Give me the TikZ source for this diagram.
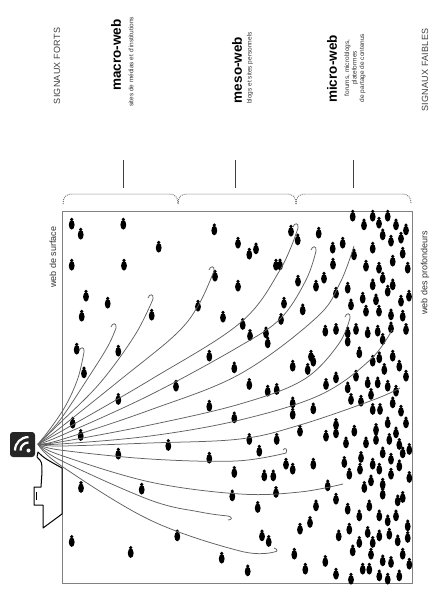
\documentclass[tikz,border=0pt]{standalone}
\usepackage{fontspec}
\setmainfont{Liberation Sans}
\newfontfamily\lightsf[LetterSpace=3]{Liberation Sans}
\begin{document}
\begin{tikzpicture}[x=1pt,y=-1pt,
  ray/.style={draw=black!62, line width=0.75pt},
  frame/.style={draw=black!50, line width=1pt},
  brace/.style={draw=black!55, line width=1pt, dash pattern=on 0.9pt off 1.1pt},
  tick/.style={draw=black!75, line width=0.9pt},
  signal/.style={rotate=90, font=\lightsf\fontsize{9}{10}\selectfont, text=black!75},
  level/.style={rotate=90, font=\bfseries\fontsize{13.5}{14}\selectfont},
  levelnote/.style={rotate=90, font=\fontsize{6.5}{7.5}\selectfont, text=black!80, align=center},
  zone/.style={rotate=90, font=\fontsize{9}{10}\selectfont, text=black!80},
  ppl/.pic={\fill (0,-4.6) circle (1.8); \fill (0,0.8) ellipse (2.9 and 4.8);}
]
\useasboundingbox (0,0) rectangle (431,594);
\fill[white] (0,0) rectangle (431,594);

% frame of the web
\draw[frame] (62,211) rectangle (412,583);

% dotted braces over the three levels
\draw[brace] (63,204) .. controls (63,197) and (66,194) .. (72,194) -- (169,194) .. controls (175,194) and (178,197) .. (178,204);
\draw[brace] (178,204) .. controls (178,197) and (181,194) .. (187,194) -- (287,194) .. controls (293,194) and (296,197) .. (296,204);
\draw[brace] (296,204) .. controls (296,197) and (299,194) .. (305,194) -- (402,194) .. controls (408,194) and (411,197) .. (411,204);
\draw[tick] (123,160) -- (123,188);
\draw[tick] (235,160) -- (235,188);
\draw[tick] (353,160) -- (353,188);

% labels
\node[signal] (forts) at (57,66) {SIGNAUX FORTS};
\node[level] (macro) at (116,55) {macro-web};
\node[levelnote] (macronote) at (131,62) {sites de médias et d'institutions};
\node[level] (meso) at (237,70) {meso-web};
\node[levelnote] (mesonote) at (250,68) {blogs et sites personnels};
\node[level] (micro) at (332,69) {micro-web};
\node[levelnote] (micronote) at (355,68) {forums, microblogs,\\plateformes\\de partage de contenus};
\node[signal] (faibles) at (425,70) {SIGNAUX FAIBLES};
\node[zone, anchor=east] (surface) at (53,223) {web de surface};
\node[zone, anchor=east] (deep) at (425,227) {web des profondeurs};

% people scattered over the web
\foreach \px/\py in {71.7/224, 80.7/234, 123.3/224, 158.7/247, 214.3/229.7, 238/243, 71.7/265, 124/265, 86/296, 107.7/303, 81.7/316, 238/286, 223/317, 198/306, 215/276, 151.7/315,
 76.7/349, 118.3/351, 84/372.7, 209.3/356, 234.3/367.7, 176/386, 118.3/399.3, 209.3/406, 234.3/417.7, 72.7/423, 80.7/435.3, 168.3/445.3, 118.3/454, 209.3/458,
 81/487.3, 141.7/489, 234.3/472.3, 232.3/495.7, 71.7/541.3, 130.7/552.3, 177.3/535.7, 221.7/558,
 249.3/254, 256/248.7, 276/265, 280/264.7, 291/231, 297.7/239.7, 298/281, 318.7/233, 332.7/248, 333/264, 342.7/243, 352.7/216, 354/254.7, 284/303, 302.7/309.7, 316/286, 324/278, 336/293, 347.7/288, 351/304.7, 364/224.7, 372.7/216, 379/223, 387.7/216, 396/224.7, 406/229.7, 382.7/234.7, 391/241, 401/238, 372.7/248, 366/266, 379/268, 392.7/261, 402.7/253, 407.7/268, 382.7/278, 372.7/284.7, 392.7/284.7, 362.7/298, 376/299.7, 387.7/291, 401/301, 409/296, 366/311, 379/311, 391/314.7, 402.7/316,
 242.7/324.3, 250/335.3, 266/332.7, 267.7/342.7, 281/319.3, 325.3/331, 336/329.3, 347.7/332.7, 356/329.3, 367.7/332.7, 377.7/331, 382.7/339.3, 391/327.7, 406/329.3, 347.7/341, 311/356, 313.3/361, 292.7/366, 307.7/369.3, 359.3/352.7, 372.7/361, 379.3/357.7, 392.7/356, 399.3/366, 406/376, 384.3/369.3, 249.3/384.3, 267.7/391, 276.7/389.3, 326/384.3, 336/377.7, 347.7/387.7, 356/376, 367.7/382.7, 377.7/382.7, 387.7/386, 396/391, 351/399.3, 361/401, 371/394.3, 292.7/402.7, 313.3/408.7, 372.7/409.3, 380/409.3, 392.7/402.7, 401/411, 292.7/414, 336/424.3, 336/432.7, 354.3/431, 376/429.3, 387.7/422.7, 396/432.7, 406/422.7, 300/431, 326/436, 249.3/439.3, 276.7/439.3, 259.3/451, 346/442.7, 366/442.7, 376/439.3, 389.3/439.3, 399.3/444.3, 382.7/452.7, 402.7/452.7, 409.3/449.3,
 286/464, 292.7/469, 313.3/464, 264.3/475.7, 273.3/475.7, 276/492.3, 257.7/507.3, 327.7/485.7, 336/499, 316/505.7, 310/522.3, 300/529, 262/535.7, 268.7/541.3, 338.7/535.7, 294.3/554, 325.3/561.3, 305.3/569, 247.7/570.7, 336/574, 351/579,
 344.3/462.3, 349.3/474, 361/457.3, 360/469, 372.7/464, 379.3/469, 391/459, 399.3/465.7, 409.3/477.3, 364.3/487.3, 371/480.7, 382.7/484, 391/474, 382.7/494, 369.3/505.7, 347.7/509, 359.3/515.7, 379.3/515.7, 387.7/520.7, 397.7/500.7, 402.7/497.3, 396/515.7, 407.7/525.7, 349.3/529, 359.3/542.3, 367.7/532.3, 372.7/542.3, 379.3/535.7, 389.3/534, 397.7/540.7, 407.7/537.3, 352.7/550.7, 371/554, 382.7/560.7, 391/562.3, 402.7/554, 409.3/564, 362.7/569, 369.3/569, 379.3/575.7, 399.3/575.7, 387.7/579}
  \pic at (\px,\py) {ppl};

% boat carrying the feed
\draw[fill=white, line width=1pt, line join=round] (38,452) .. controls (44,458) .. (62,468) -- (62,514) -- (43,528) -- (43,505) -- (34,505) -- (34,487) -- (41,487) -- (42,472) .. controls (42,462) .. (37,457) -- cycle;
\draw[line width=0.6pt] (36,492) -- (36,500);

% feed icon
\node[fill=black!85, rounded corners=3pt, minimum size=25pt, inner sep=0pt] (rss) at (22.5,444.5) {};
\fill[white] (28.5,450.5) circle (2);
\draw[white, line width=2.2pt] (20.5,450.5) arc[start angle=180, end angle=270, radius=8];
\draw[white, line width=2.2pt] (15,450.5) arc[start angle=180, end angle=270, radius=13.5];

% rays from the feed into the web
\coordinate (src) at (38,444);
\coordinate (e1) at (84,352);
\coordinate (e2) at (116,328);
\coordinate (e3) at (153,299);
\coordinate (e4) at (214,271);
\coordinate (e5) at (298,228);
\coordinate (e6) at (316,251);
\coordinate (e7) at (354,246);
\coordinate (e8) at (350,318);
\coordinate (e9) at (392,330);
\coordinate (e10) at (400,388);
\coordinate (e11) at (286,453);
\coordinate (e12) at (343,484);
\coordinate (e13) at (228,516);
\coordinate (e14) at (274,552);

\draw[ray] plot[smooth,tension=0.6] coordinates {(src) (50,429) (66,405) (78,378) (e1)} .. controls +(1,-6) and +(1,-4) .. +(-5,-1);
\draw[ray] plot[smooth,tension=0.6] coordinates {(src) (60,420) (90,375) (108,346) (e2)} .. controls +(1,-6) and +(1,-4) .. +(-5,-1);
\draw[ray] plot[smooth,tension=0.6] coordinates {(src) (60,423) (100,383) (135,335) (e3)} .. controls +(1,-6) and +(1,-4) .. +(-5,-1);
\draw[ray] plot[smooth,tension=0.6] coordinates {(src) (60,428) (120,380) (175,335) (198,306) (e4)} .. controls +(1,-6) and +(1,-4) .. +(-5,-1);
\draw[ray] plot[smooth,tension=0.6] coordinates {(src) (60,432) (150,380) (240,323) (280,270) (e5)} .. controls +(1,-6) and +(1,-4) .. +(-5,-1);
\draw[ray] plot[smooth,tension=0.6] coordinates {(src) (60,436) (150,395) (240,346) (281,318) (306,280) (e6)} .. controls +(1,-6) and +(1,-4) .. +(-5,-1);
\draw[ray] plot[smooth,tension=0.6] coordinates {(src) (60,440) (150,410) (240,374) (316,318) (340,283) (e7)};
\draw[ray] plot[smooth,tension=0.6] coordinates {(src) (60,442) (150,425) (240,404) (303,380) (338,345) (e8)} .. controls +(1,-6) and +(1,-4) .. +(-5,-1);
\draw[ray] plot[smooth,tension=0.6] coordinates {(src) (60,444) (150,436) (240,420) (320,395) (370,360) (e9)};
\draw[ray] plot[smooth,tension=0.6] coordinates {(src) (60,446) (150,443) (240,439) (300,425) (373,400) (e10)};
\draw[ray] plot[smooth,tension=0.6] coordinates {(src) (60,450) (150,459) (236,461) (e11)} .. controls +(2,-4) and +(2,-3) .. +(-3,-3);
\draw[ray] plot[smooth,tension=0.6] coordinates {(src) (60,455) (150,482) (240,494) (300,492) (e12)};
\draw[ray] plot[smooth,tension=0.6] coordinates {(src) (60,460) (150,500) (200,512) (e13)} .. controls +(5,1) and +(4,0) .. +(0,4);
\draw[ray] plot[smooth,tension=0.6] coordinates {(src) (60,465) (150,520) (240,551) (e14)} .. controls +(4,0) and +(4,1) .. +(0,-4);
\end{tikzpicture}
\end{document}
